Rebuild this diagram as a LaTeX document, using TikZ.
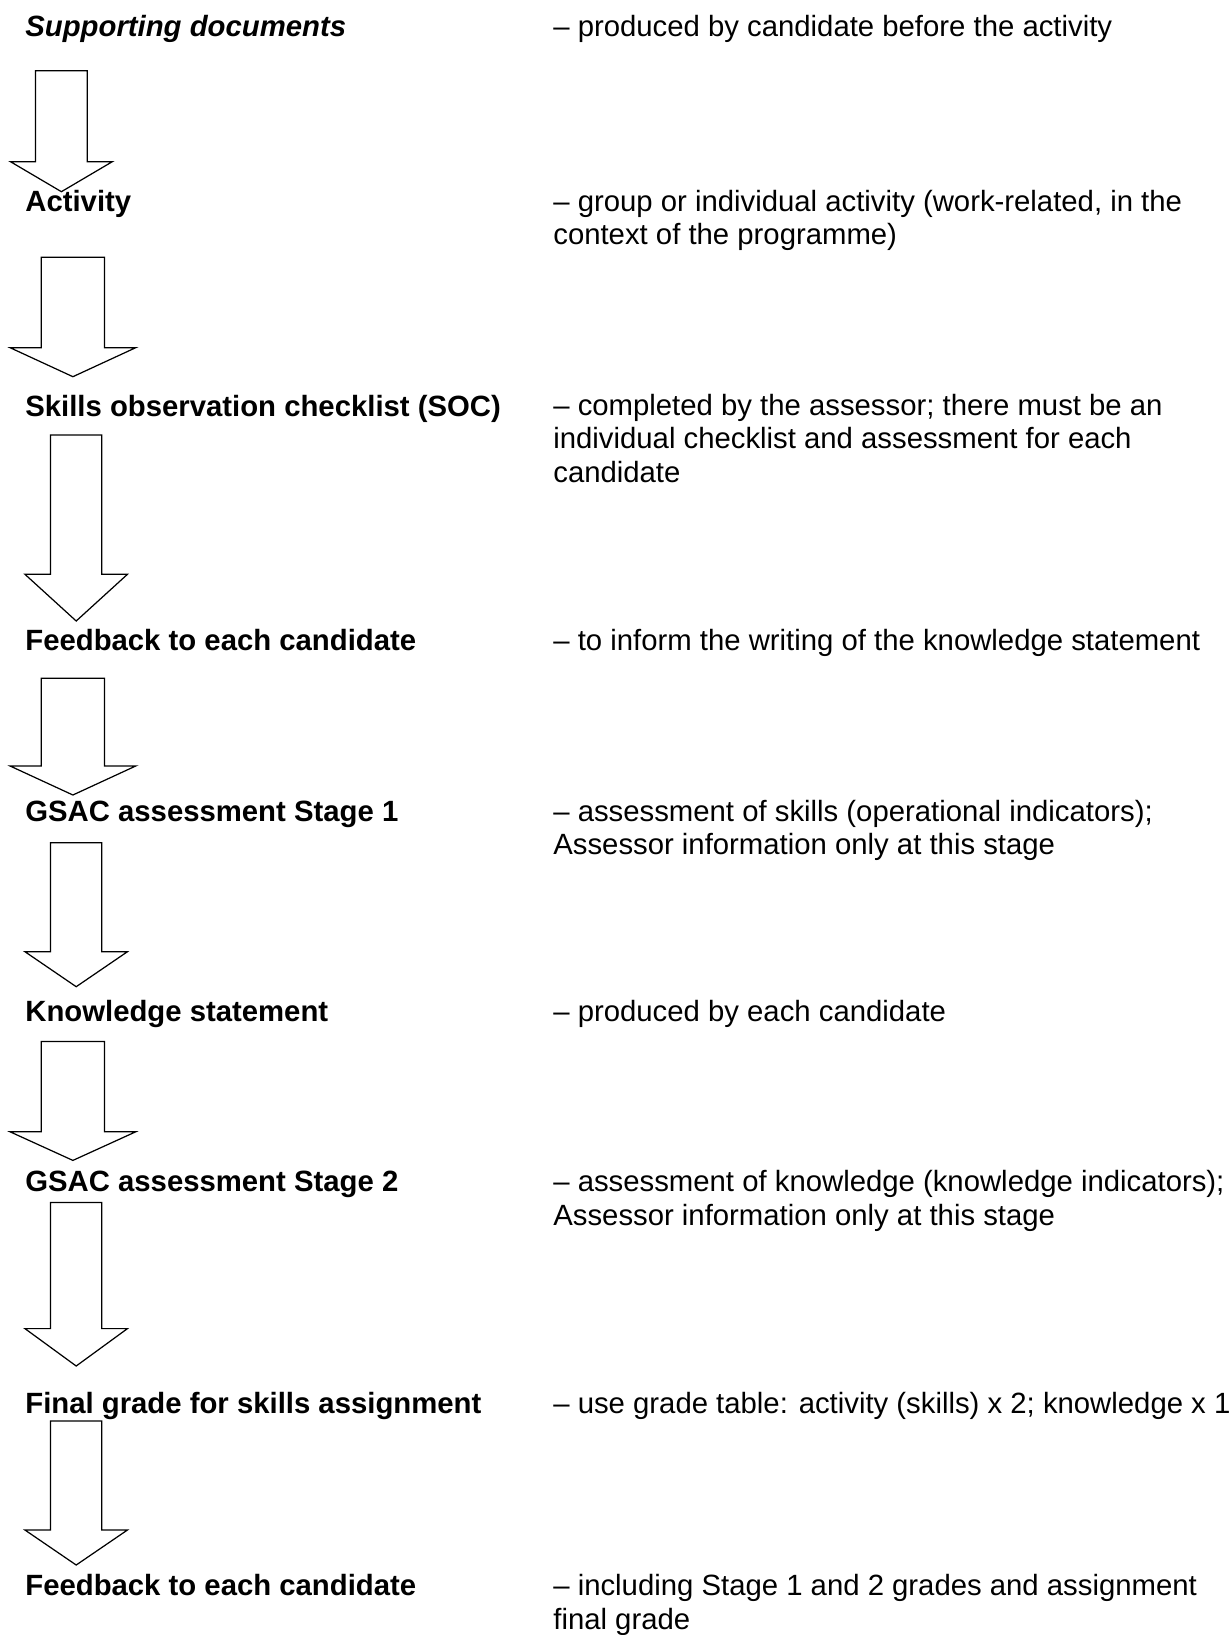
\documentclass[tikz,border=0pt]{standalone}
\usepackage{fontspec}
\setmainfont{Liberation Sans}
\usetikzlibrary{positioning}

% outline arrow pointing down: centre x, top, head y, tip y, shaft half width, head half width
\newcommand{\blockarrow}[6]{%
  \draw[outline] ({#1-#5},#2) -- ({#1+#5},#2) -- ({#1+#5},#3) -- ({#1+#6},#3)
    -- (#1,#4) -- ({#1-#6},#3) -- ({#1-#5},#3) -- cycle;}

\begin{document}
\begin{tikzpicture}[x=0.02cm, y=-0.02cm,
    every node/.style={font=\fontsize{16.68pt}{19.06pt}\selectfont},
    lbl/.style={anchor=base west, inner sep=0pt, font=\fontsize{16.68pt}{19.06pt}\selectfont\bfseries},
    desc/.style={anchor=base west, inner sep=0pt},
    outline/.style={draw=black, line width=0.7pt, fill=white, line join=miter}]
  \useasboundingbox (0,0) rectangle (1229,1635);

  % left column
  \node[lbl, font=\fontsize{16.68pt}{19.06pt}\selectfont\bfseries\itshape] (supdoc) at (25,36.5) {Supporting documents};
  \node[lbl] (activity) at (25,211.5) {Activity};
  \node[lbl] (soc) at (25,416) {Skills observation checklist (SOC)};
  \node[lbl] (feedback) at (25,650) {Feedback to each candidate};
  \node[lbl] (stageone) at (25,821) {GSAC assessment Stage 1};
  \node[lbl] (knowledge) at (25,1021.7) {Knowledge statement};
  \node[lbl] (stagetwo) at (25,1191.8) {GSAC assessment Stage 2};
  \node[lbl] (finalgrade) at (25,1413) {Final grade for skills assignment};
  \node[lbl] (feedbackend) at (25,1595.7) {Feedback to each candidate};

  % right column
  \node[desc] (supdoc-d) at (553,36.5) {– produced by candidate before the activity};
  \node[desc] (activity-d) at (553,211.5) {\begin{tabular}[t]{@{}l@{}}– group or individual activity (work-related, in the\\context of the programme)\end{tabular}};
  \node[desc] (soc-d) at (553,415.5) {\begin{tabular}[t]{@{}l@{}}– completed by the assessor; there must be an\\individual checklist and assessment for each\\candidate\end{tabular}};
  \node[desc] (feedback-d) at (553,650) {– to inform the writing of the knowledge statement};
  \node[desc] (stageone-d) at (553,821) {\begin{tabular}[t]{@{}l@{}}– assessment of skills (operational indicators);\\Assessor information only at this stage\end{tabular}};
  \node[desc] (knowledge-d) at (553,1021.7) {– produced by each candidate};
  \node[desc] (stagetwo-d) at (553,1191.8) {\begin{tabular}[t]{@{}l@{}}– assessment of knowledge (knowledge indicators);\\Assessor information only at this stage\end{tabular}};
  \node[desc] (finalgrade-d) at (553,1413) {– use grade table: activity (skills) x 2; knowledge x 1};
  \node[desc] (feedbackend-d) at (553,1595.7) {\begin{tabular}[t]{@{}l@{}}– including Stage 1 and 2 grades and assignment\\final grade\end{tabular}};

  % arrows
  \blockarrow{61.4}{70.7}{161.7}{191.7}{25.85}{50.9}
  \blockarrow{72.9}{257.3}{347.7}{376.7}{31.6}{62.8}
  \blockarrow{76.2}{435}{574.3}{621}{25.65}{51.25}
  \blockarrow{72.9}{678.3}{766}{795}{31.6}{62.8}
  \blockarrow{76.2}{842.7}{951.7}{986.7}{25.65}{51.25}
  \blockarrow{72.9}{1041.6}{1131.8}{1160.4}{31.6}{62.8}
  \blockarrow{76.2}{1202.4}{1328.6}{1366}{25.65}{51.25}
  \blockarrow{76.2}{1421}{1530}{1565}{25.65}{51.25}
\end{tikzpicture}
\end{document}
